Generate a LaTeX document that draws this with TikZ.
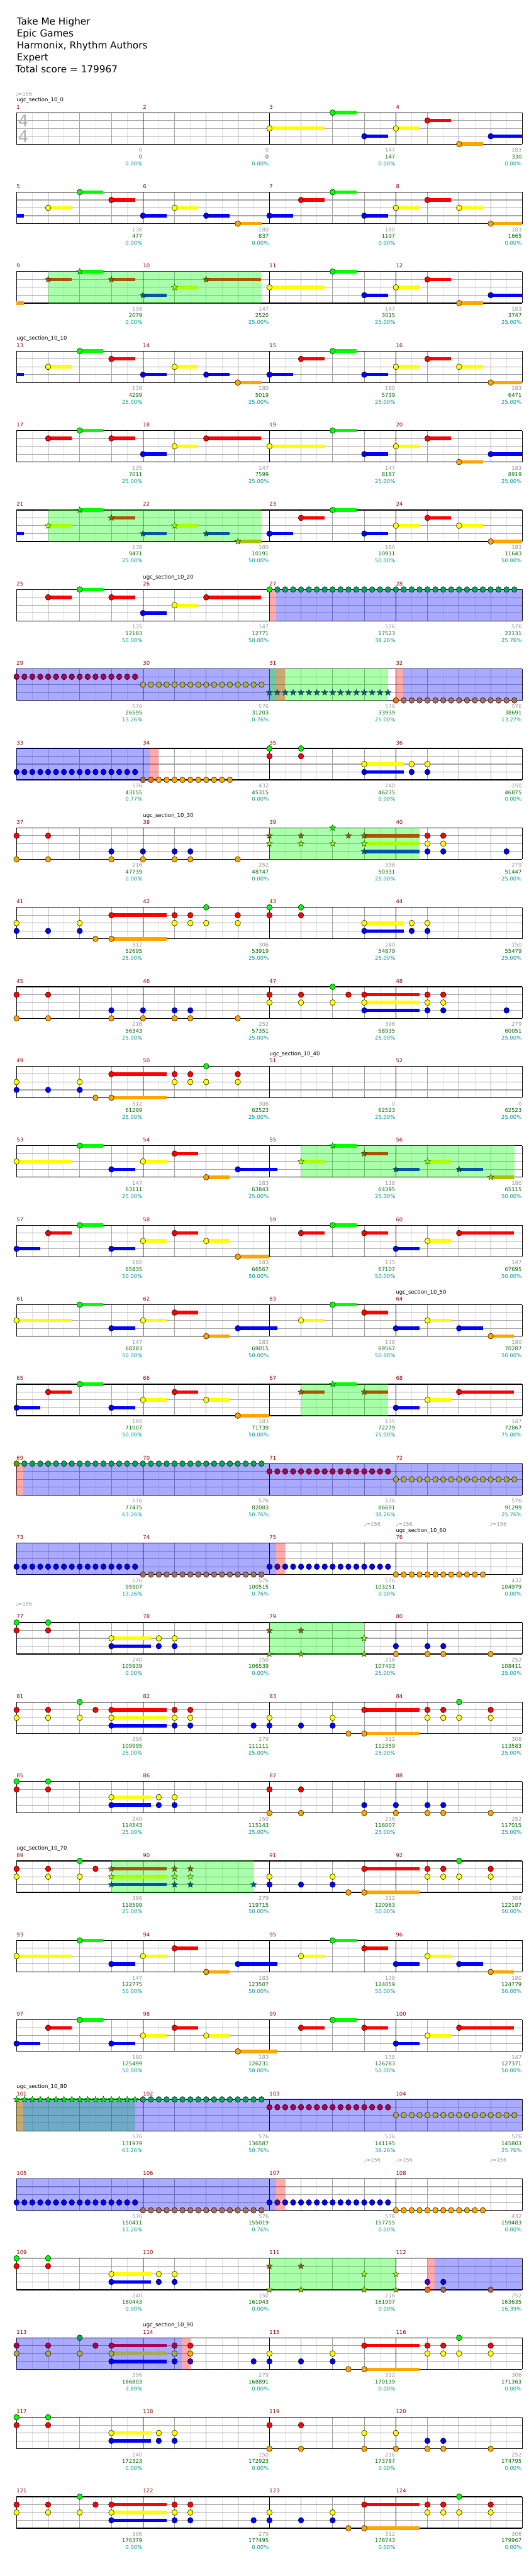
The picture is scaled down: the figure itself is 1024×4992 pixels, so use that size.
\documentclass[tikz,border=0pt]{standalone}
\usepackage{fontspec}
\setmainfont{DejaVu Sans}
\usetikzlibrary{shapes.geometric}
% lane colours: n plain, g overdrive blend, u blue-overlay blend, p pink blend
\definecolor{n0}{RGB}{0,255,0}\definecolor{n1}{RGB}{255,0,0}\definecolor{n2}{RGB}{255,255,0}\definecolor{n3}{RGB}{0,0,255}\definecolor{n4}{RGB}{255,165,0}
\definecolor{g0}{RGB}{0,255,0}\definecolor{g1}{RGB}{170,85,0}\definecolor{g2}{RGB}{170,255,0}\definecolor{g3}{RGB}{0,85,170}\definecolor{g4}{RGB}{170,195,0}
\definecolor{u0}{RGB}{0,170,85}\definecolor{u1}{RGB}{170,0,85}\definecolor{u2}{RGB}{170,170,85}\definecolor{u3}{RGB}{0,0,255}\definecolor{u4}{RGB}{170,110,85}
\definecolor{p0}{RGB}{85,170,0}\definecolor{p1}{RGB}{255,0,0}\definecolor{p2}{RGB}{255,170,0}\definecolor{p3}{RGB}{85,0,170}\definecolor{p4}{RGB}{255,110,0}
\definecolor{odG}{RGB}{0,255,0}\definecolor{odB}{RGB}{0,0,255}\definecolor{odR}{RGB}{255,0,0}
\definecolor{cEighth}{RGB}{225,225,225}\definecolor{cBeat}{RGB}{160,160,160}\definecolor{cLane}{RGB}{165,165,165}
\definecolor{cMnum}{RGB}{150,0,0}\definecolor{cGlab}{RGB}{150,150,150}\definecolor{cSlab}{RGB}{0,110,0}\definecolor{cPlab}{RGB}{0,150,150}
\definecolor{cSig}{RGB}{175,175,175}\definecolor{cStar}{RGB}{0,60,0}
\tikzset{
 eighthline/.style={draw=cEighth, line width=0.9pt},
 beatline/.style={draw=cBeat, line width=0.9pt},
 laneline/.style={draw=cLane, line width=1.3pt},
 barline/.style={draw=black, line width=0.9pt},
 frameline/.style={draw=black, line width=1.5pt},
 sideline/.style={draw=black, line width=1pt},
 mnum/.style={anchor=base west, inner sep=0pt, text=cMnum, font=\fontsize{10.3}{12}\selectfont},
 glab/.style={anchor=base east, inner sep=0pt, text=cGlab, font=\fontsize{10.3}{12}\selectfont},
 slab/.style={anchor=base east, inner sep=0pt, text=cSlab, font=\fontsize{10.3}{12}\selectfont},
 plab/.style={anchor=base east, inner sep=0pt, text=cPlab, font=\fontsize{10.3}{12}\selectfont},
 sectlab/.style={anchor=base west, inner sep=0pt, text=black, font=\fontsize{10.3}{12}\selectfont},
 tempolab/.style={anchor=base west, inner sep=0pt, text=cGlab, font=\fontsize{10}{12}\selectfont},
 titlelab/.style={anchor=base west, inner sep=0pt, text=black, font=\fontsize{18.6}{22}\selectfont},
 notehead/.style={draw=black, line width=0.6pt},
 starhead/.style={star, star points=5, star point ratio=2.4, minimum size=12.5pt, inner sep=0pt, draw=cStar, line width=0.5pt},
}
\newcommand{\staff}[1]{%
 \pgfmathsetmacro{\rowT}{-218.3-154*(#1)}%
 \pgfmathsetmacro{\rowB}{\rowT-61}%
 \foreach \myi in {0.5,1.5,...,15.5}{\draw[eighthline] ({32+61.25*\myi},\rowT) -- ({32+61.25*\myi},\rowB);}%
 \foreach \myi in {1,2,3,5,6,7,9,10,11,13,14,15}{\draw[beatline] ({32+61.25*\myi},\rowT) -- ({32+61.25*\myi},\rowB);}%
 \foreach \myi in {1,2,3}{\draw[laneline] (32,{\rowT-15.25*\myi}) -- (1012,{\rowT-15.25*\myi});}%
 \foreach \myi in {4,8,12}{\draw[barline] ({32+61.25*\myi},\rowT) -- ({32+61.25*\myi},\rowB);}%
 \draw[frameline] (32,\rowT) -- (1012,\rowT) (32,\rowB) -- (1012,\rowB);%
 \draw[sideline] (32,\rowT) -- (32,\rowB) (1012,\rowT) -- (1012,\rowB);%
 \foreach \myj in {0,1,2,3}{\node[mnum] at ({32+245*\myj},{\rowT+7.3}) {\number\numexpr 4*(#1)+\myj+1\relax};}%
}
% note: [prefix]{row}{beat}{lane}{tail}
\newcommand{\xn}[5][n]{%
 \pgfmathsetmacro{\px}{32+61.25*(#3)}%
 \pgfmathsetmacro{\py}{-218.3-154*(#2)-15.25*(#4)}%
 \ifdim #5pt>0pt \fill[#1#4] ({\px},{\py-3.35}) rectangle ({\px+61.25*(#5)},{\py+3.35});\fi
 \filldraw[notehead, fill=#1#4] (\px,\py) ellipse [x radius=5.3, y radius=5.6];%
}
\newcommand{\xs}[5][g]{%
 \pgfmathsetmacro{\px}{32+61.25*(#3)}%
 \pgfmathsetmacro{\py}{-218.3-154*(#2)-15.25*(#4)}%
 \ifdim #5pt>0pt \fill[#1#4] ({\px},{\py-3.35}) rectangle ({\px+61.25*(#5)},{\py+3.35});\fi
 \node[starhead, fill=#1#4] at (\px,\py) {};%
}
\newcommand{\xc}[4][n]{\foreach \myl in {#4}{\xn[#1]{#2}{#3}{\myl}{0}}}
\newcommand{\xsc}[4][g]{\foreach \myl in {#4}{\xs[#1]{#2}{#3}{\myl}{0}}}
% run: [prefix]{row}{lane}{start}{count}
\newcommand{\xr}[5][n]{\foreach \myq in {1,...,#5}{\xn[#1]{#2}{#4+0.25*\myq-0.25}{#3}{0}}}
\newcommand{\xsr}[5][g]{\foreach \myq in {1,...,#5}{\xs[#1]{#2}{#4+0.25*\myq-0.25}{#3}{0}}}
\newcommand{\ov}[4]{\fill[#4, fill opacity=0.3333] ({32+61.25*(#2)},{-218.3-154*(#1)+0.8}) rectangle ({32+61.25*(#3)},{-218.3-154*(#1)-61.8});}
\newcommand{\stub}[3]{\fill[n#2] (32,{-218.3-154*(#1)-15.25*(#2)-3.35}) rectangle ({32+61.25*(#3)},{-218.3-154*(#1)-15.25*(#2)+3.35});}
\newcommand{\sect}[3]{\node[sectlab] at ({32+245*(#2)},{-218.3-154*(#1)+21}) {#3};}
\newcommand{\tempo}[2]{\node[tempolab] at (#2,{-218.3-154*(#1)+32.8}) {♩=156};}
\newcommand{\labs}[2]{%
 \foreach \lga/\lgb/\lgc [count=\myj from 1] in {#2}{%
  \node[glab] at ({32+245*\myj-1},{-218.3-154*(#1)-61-15.3}) {\lga};
  \node[slab] at ({32+245*\myj-1},{-218.3-154*(#1)-61-28}) {\lgb};
  \node[plab] at ({32+245*\myj-1},{-218.3-154*(#1)-61-41.3}) {\lgc\%};
 }}
% patterns
\newcommand{\patAa}[2]{#1{#2}{1}{2}{.75}#1{#2}{2}{0}{.75}#1{#2}{3}{1}{.75}#1{#2}{4}{3}{.75}#1{#2}{5}{2}{.75}#1{#2}{6}{3}{.75}#1{#2}{7}{4}{.75}}
\newcommand{\patAb}[1]{\xn{#1}{8}{3}{.75}\xn{#1}{9}{1}{.75}\xn{#1}{10}{0}{.75}\xn{#1}{11}{3}{.75}\xn{#1}{12}{2}{.75}\xn{#1}{13}{1}{.75}\xn{#1}{14}{2}{.75}\xn{#1}{15}{4}{1}}
\newcommand{\patB}[1]{\xn{#1}{8}{2}{1.75}\xn{#1}{10}{0}{.75}\xn{#1}{11}{3}{.75}\xn{#1}{12}{2}{.75}\xn{#1}{13}{1}{.75}\xn{#1}{14}{4}{.75}\xn{#1}{15}{3}{1}}
\newcommand{\patC}[2]{#1{#2}{1}{1}{.75}#1{#2}{2}{0}{.75}#1{#2}{3}{1}{.75}#1{#2}{4}{3}{.75}#1{#2}{5}{2}{.75}#1{#2}{6}{1}{1.73}}
\newcommand{\patEa}[1]{\xn{#1}{0}{2}{1.75}\xn{#1}{2}{0}{.75}\xn{#1}{3}{3}{.75}\xn{#1}{4}{2}{.75}\xn{#1}{5}{1}{.75}\xn{#1}{6}{4}{.75}\xn{#1}{7}{3}{1.25}}
\newcommand{\patEb}[2]{#1{#2}{9}{2}{.75}#1{#2}{10}{0}{.75}#1{#2}{11}{1}{.75}#1{#2}{12}{3}{.75}#1{#2}{13}{2}{.75}#1{#2}{14}{3}{.75}#1{#2}{15}{4}{.73}}
\newcommand{\patFa}[2]{\xn{#1}{0}{3}{.75}\xn{#1}{1}{1}{.75}\xn{#1}{2}{0}{.75}\xn{#1}{3}{3}{.75}\xn{#1}{4}{2}{.75}\xn{#1}{5}{1}{.75}\xn{#1}{6}{2}{.75}\xn{#1}{7}{4}{#2}}
\newcommand{\patFb}[2]{#1{#2}{9}{1}{.75}#1{#2}{10}{0}{.75}#1{#2}{11}{1}{.75}}
\newcommand{\patFc}[1]{\xn{#1}{12}{3}{.75}\xn{#1}{13}{2}{.75}\xn{#1}{14}{1}{1.73}}
\newcommand{\patDa}[1]{\xc{#1}{0}{1,4}\xc{#1}{1}{1,4}\xc{#1}{3}{3,4}\xc{#1}{4}{3,4}\xc{#1}{5}{3,4}\xc{#1}{5.5}{3,4}\xc{#1}{7}{4}}
\newcommand{\patDb}[2]{#1{#2}{8}{1}{0}#1{#2}{8}{2}{0}#1{#2}{9}{1}{0}#1{#2}{9}{2}{0}#1{#2}{10}{0}{0}#1{#2}{10}{2}{0}#1{#2}{10.5}{1}{0}#1{#2}{11}{1}{1.75}#1{#2}{11}{2}{1.75}#1{#2}{11}{3}{1.75}}
\newcommand{\patDc}[1]{\xc{#1}{13}{1,2,3}\xc{#1}{13.5}{1,2,3}\xc{#1}{15.5}{3}}
\newcommand{\patIa}[1]{\xc{#1}{0}{2,3}\xc{#1}{1}{3}\xc{#1}{2}{2,3}\xc{#1}{2.5}{4}\xn{#1}{3}{1}{1.75}\xn{#1}{3}{4}{1.75}\xc{#1}{5}{1,2}\xc{#1}{5.5}{1,2}\xc{#1}{6}{0,2}\xc{#1}{7}{1,2}}
\newcommand{\patIb}[1]{\xc{#1}{8}{0,1}\xc{#1}{9}{0,1}\xn{#1}{11}{2}{1.25}\xn{#1}{11}{3}{1.25}\xc{#1}{12.5}{2,3}\xc{#1}{13}{2,3}}
\newcommand{\patJ}[1]{\xc{#1}{0}{0,1}\xc{#1}{1}{0,1}\xn{#1}{3}{2}{1.25}\xn{#1}{3}{3}{1.25}\xc{#1}{4.5}{2,3}\xc{#1}{5}{2,3}}
% pattern G: {row}{cmd b0-2.5}{cmd b3-5}{cmd b5.5}{cmd b7.5}
\newcommand{\patG}[5]{%
 #2{#1}{0}{1}{0}#2{#1}{0}{2}{0}#2{#1}{1}{1}{0}#2{#1}{1}{2}{0}#2{#1}{2}{0}{0}#2{#1}{2}{2}{0}#2{#1}{2.5}{1}{0}%
 #3{#1}{3}{1}{1.75}#3{#1}{3}{2}{1.75}#3{#1}{3}{3}{1.75}#3{#1}{5}{1}{0}#3{#1}{5}{2}{0}#3{#1}{5}{3}{0}%
 #4{#1}{5.5}{1}{0}#4{#1}{5.5}{2}{0}#4{#1}{5.5}{3}{0}%
 #5{#1}{7.5}{3}{0}%
 \xc{#1}{8}{2,3}\xc{#1}{9}{3}\xc{#1}{10}{2,3}\xc{#1}{10.5}{4}\xn{#1}{11}{1}{1.75}\xn{#1}{11}{4}{1.75}%
 \xc{#1}{13}{1,2}\xc{#1}{13.5}{1,2}\xc{#1}{14}{0,2}\xc{#1}{15}{1,2}}
\begin{document}
\begin{tikzpicture}[x=1pt,y=1pt]
\useasboundingbox (0,0) rectangle (1024,-4992);
\fill[white] (0,0) rectangle (1024,-4992);
\node[titlelab] (title) at (32.5,-48.3) {Take Me Higher};
\node[titlelab] (artist) at (32.5,-71.6) {Epic Games};
\node[titlelab] (author) at (32.5,-94.9) {Harmonix, Rhythm Authors};
\node[titlelab] (diff) at (32.5,-118.2) {Expert};
\node[titlelab] (total) at (30,-141.3) {Total score = 179967};
\foreach \myk in {0,...,30}{\staff{\myk}}
\node[anchor=base west, inner sep=0pt, text=cSig, font=\fontsize{31.5}{32}\selectfont] (sigtop) at (35,-245) {4};
\node[anchor=base west, inner sep=0pt, text=cSig, font=\fontsize{31.5}{32}\selectfont] (sigbot) at (35,-275.8) {4};
% section labels and tempos
\sect{0}{0}{ugc\_section\_10\_0}\sect{3}{0}{ugc\_section\_10\_10}\sect{6}{1}{ugc\_section\_10\_20}
\sect{9}{1}{ugc\_section\_10\_30}\sect{12}{2}{ugc\_section\_10\_40}\sect{15}{3}{ugc\_section\_10\_50}
\sect{18}{3}{ugc\_section\_10\_60}\sect{22}{0}{ugc\_section\_10\_70}\sect{25}{0}{ugc\_section\_10\_80}
\sect{28}{1}{ugc\_section\_10\_90}
\tempo{0}{30}\tempo{18}{705}\tempo{18}{767}\tempo{18}{949}\tempo{19}{30}
\tempo{26}{705}\tempo{26}{767}\tempo{26}{949}
% row 0
\patB{0}
\labs{0}{0/0/0.00,0/0/0.00,147/147/0.00,183/330/0.00}
% row 1
\stub{1}{3}{.24}\patAa{\xn}{1}\patAb{1}
\labs{1}{138/477/0.00,180/837/0.00,180/1197/0.00,183/1665/0.00}
% row 2
\stub{2}{4}{.24}\ov{2}{1}{7.73}{odG}\patC{\xs}{2}\patB{2}
\labs{2}{138/2079/0.00,147/2520/25.00,147/3015/25.00,183/3747/25.00}
% row 3
\stub{3}{3}{.24}\patAa{\xn}{3}\patAb{3}
\labs{3}{138/4299/25.00,180/5019/25.00,180/5739/25.00,183/6471/25.00}
% row 4
\patC{\xn}{4}\patB{4}
\labs{4}{135/7011/25.00,147/7599/25.00,147/8187/25.00,183/8919/25.00}
% row 5
\stub{5}{3}{.24}\ov{5}{1}{7.73}{odG}\patAa{\xs}{5}\patAb{5}
\labs{5}{138/9471/25.00,180/10191/50.00,180/10911/50.00,183/11643/50.00}
% row 6
\patC{\xn}{6}\ov{6}{8}{8.22}{odR}\ov{6}{8.22}{16}{odB}
\xn{6}{8}{0}{0}\xr[u]{6}{0}{8.25}{31}
\labs{6}{135/12183/50.00,147/12771/50.00,576/17523/38.26,576/22131/25.76}
% row 7
\ov{7}{0}{8.22}{odB}\ov{7}{8}{11.75}{odG}\ov{7}{8.22}{8.49}{odR}\ov{7}{12}{12.24}{odR}\ov{7}{12.24}{16}{odB}
\xr[u]{7}{1}{0}{16}\xr[u]{7}{2}{4}{16}\xsr[g]{7}{3}{8}{16}\xn[p]{7}{12}{4}{0}\xr[u]{7}{4}{12.25}{15}
\labs{7}{576/26595/13.26,576/31203/0.76,576/33939/25.00,576/38691/13.27}
% row 8
\ov{8}{0}{4.22}{odB}\ov{8}{4.22}{4.5}{odR}
\xr{8}{3}{0}{16}\xn[u]{8}{4}{4}{0}\xn[p]{8}{4.25}{4}{0}\xr{8}{4}{4.5}{10}
\xc{8}{8}{0,1}\xc{8}{9}{0,1}\xn{8}{11}{2}{1.25}\xn{8}{11}{3}{1.25}\xc{8}{12.5}{2,3}\xc{8}{13}{2,3}
\labs{8}{576/43155/0.77,432/45315/0.00,240/46275/0.00,150/46875/0.00}
% row 9
\patDa{9}\ov{9}{8}{12.75}{odG}\patDb{\xs}{9}\patDc{9}
\labs{9}{216/47739/0.00,252/48747/0.00,396/50331/25.00,279/51447/25.00}
% row 10
\patIa{10}\patIb{10}
\labs{10}{312/52695/25.00,306/53919/25.00,240/54879/25.00,150/55479/25.00}
% row 11
\patDa{11}\patDb{\xn}{11}\patDc{11}
\labs{11}{216/56343/25.00,252/57351/25.00,396/58935/25.00,279/60051/25.00}
% row 12
\patIa{12}
\labs{12}{312/61299/25.00,306/62523/25.00,0/62523/25.00,0/62523/25.00}
% row 13
\patEa{13}\ov{13}{9}{15.75}{odG}\patEb{\xs}{13}
\labs{13}{147/63111/25.00,183/63843/25.00,138/64395/25.00,180/65115/50.00}
% row 14
\patFa{14}{1}\patFb{\xn}{14}\patFc{14}
\labs{14}{180/65835/50.00,183/66567/50.00,135/67107/50.00,147/67695/50.00}
% row 15
\patEa{15}\patEb{\xn}{15}
\labs{15}{147/68283/50.00,183/69015/50.00,138/69567/50.00,180/70287/50.00}
% row 16
\patFa{16}{1}\ov{16}{9}{11.75}{odG}\patFb{\xs}{16}\patFc{16}
\labs{16}{180/71007/50.00,183/71739/50.00,135/72279/75.00,147/72867/75.00}
% row 17
\ov{17}{0}{0.22}{odR}\ov{17}{0.22}{16}{odB}
\xn[p]{17}{0}{0}{0}\xr[u]{17}{0}{0.25}{31}\xr[u]{17}{1}{8}{16}\xr[u]{17}{2}{12}{16}
\labs{17}{576/77475/63.26,576/82083/50.76,576/86691/38.26,576/91299/25.76}
% row 18
\ov{18}{0}{8.22}{odB}\ov{18}{8.22}{8.5}{odR}
\xr{18}{3}{0}{16}\xr[u]{18}{4}{4}{16}\xn{18}{8}{3}{0}\xn[p]{18}{8.25}{3}{0}\xr{18}{3}{8.5}{14}\xr{18}{4}{12}{12}
\labs{18}{576/95907/13.26,576/100515/0.76,576/103251/0.00,432/104979/0.00}
% row 19
\patJ{19}\ov{19}{8}{11}{odG}\xsc{19}{8}{1,4}\xsc{19}{9}{1,4}\xsc{19}{11}{2,4}
\xc{19}{12}{3,4}\xc{19}{13}{3,4}\xc{19}{13.5}{3,4}\xc{19}{15}{4}
\labs{19}{240/105939/0.00,150/106539/0.00,216/107403/25.00,252/108411/25.00}
% row 20
\patG{20}{\xn}{\xn}{\xn}{\xn}
\labs{20}{396/109995/25.00,279/111111/25.00,312/112359/25.00,306/113583/25.00}
% row 21
\patJ{21}\xc{21}{8}{1,4}\xc{21}{9}{1,4}\xc{21}{11}{3,4}\xc{21}{12}{3,4}\xc{21}{13}{3,4}\xc{21}{13.5}{3,4}\xc{21}{15}{4}
\labs{21}{240/114543/25.00,150/115143/25.00,216/116007/25.00,252/117015/25.00}
% row 22
\ov{22}{3}{7.5}{odG}\patG{22}{\xn}{\xs}{\xs}{\xs}
\labs{22}{396/118599/25.00,279/119715/50.00,312/120963/50.00,306/122187/50.00}
% row 23
\patEa{23}\patEb{\xn}{23}
\labs{23}{147/122775/50.00,183/123507/50.00,138/124059/50.00,180/124779/50.00}
% row 24
\patFa{24}{1.25}\patFb{\xn}{24}\patFc{24}
\labs{24}{180/125499/50.00,183/126231/50.00,138/126783/50.00,147/127371/50.00}
% row 25
\ov{25}{0}{3.75}{odG}\ov{25}{0}{0.22}{odR}\ov{25}{0.22}{16}{odB}
\xsr[g]{25}{0}{0}{16}\xr[u]{25}{0}{4}{16}\xr[u]{25}{1}{8}{16}\xr[u]{25}{2}{12}{16}
\labs{25}{576/131979/63.26,576/136587/50.76,576/141195/38.26,576/145803/25.76}
% row 26
\ov{26}{0}{8.22}{odB}\ov{26}{8.22}{8.5}{odR}
\xr{26}{3}{0}{16}\xr[u]{26}{4}{4}{16}\xn{26}{8}{3}{0}\xn[p]{26}{8.25}{3}{0}\xr{26}{3}{8.5}{14}\xr{26}{4}{12}{12}
\labs{26}{576/150411/13.26,576/155019/0.76,576/157755/0.00,432/159483/0.00}
% row 27
\patJ{27}\ov{27}{8}{12}{odG}\xsc{27}{8}{1,4}\xsc{27}{9}{1,4}\xsc{27}{11}{2,4}\xsc{27}{12}{2,4}
\ov{27}{13}{13.22}{odR}\ov{27}{13.22}{16}{odB}
\xc[p]{27}{13}{3,4}\xc[u]{27}{13.5}{3,4}\xc[u]{27}{15}{4}
\labs{27}{240/160443/0.00,150/161043/0.00,216/161907/0.00,252/163635/16.39}
% row 28
\ov{28}{0}{5.22}{odB}\ov{28}{5.22}{5.5}{odR}
\patG{28}{\xn[u]}{\xn[u]}{\xn[p]}{\xn}
\labs{28}{396/166803/3.89,279/168891/0.00,312/170139/0.00,306/171363/0.00}
% row 29
\patJ{29}\xc{29}{8}{1,4}\xc{29}{9}{1,4}\xc{29}{11}{2,4}\xc{29}{12}{2,4}\xc{29}{13}{3,4}\xc{29}{13.5}{3,4}\xc{29}{15}{4}
\labs{29}{240/172323/0.00,150/172923/0.00,216/173787/0.00,252/174795/0.00}
% row 30
\patG{30}{\xn}{\xn}{\xn}{\xn}
\labs{30}{396/176379/0.00,279/177495/0.00,312/178743/0.00,306/179967/0.00}
\end{tikzpicture}
\end{document}
